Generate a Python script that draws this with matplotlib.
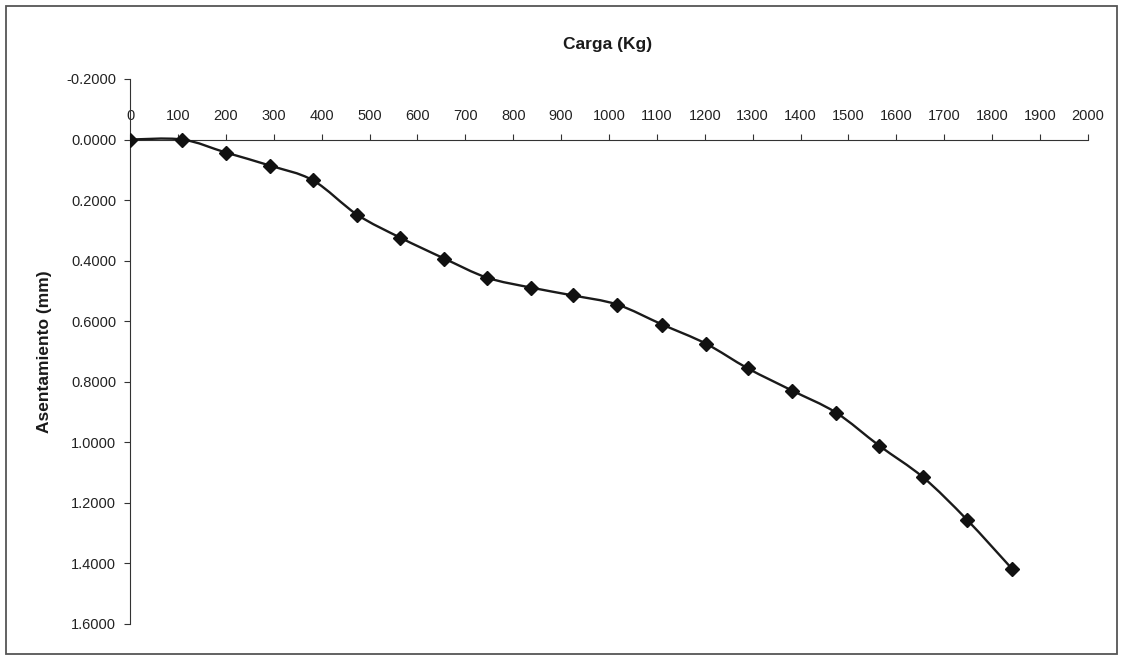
import numpy as np
import matplotlib
matplotlib.use("Agg")
import matplotlib.pyplot as plt
from matplotlib.path import Path
from matplotlib.patches import PathPatch, Rectangle

plt.rcParams['font.family'] = ['Liberation Sans', 'DejaVu Sans']

# ensayo de carga: carga aplicada vs asentamiento
carga = [0, 109, 200, 292, 382, 474, 564, 656, 745, 837, 925,
         1017, 1111, 1202, 1290, 1382, 1474, 1564, 1656, 1747, 1841]
asentamiento = [0.000, 0.000, 0.043, 0.086, 0.135, 0.248, 0.324, 0.393,
                0.456, 0.489, 0.515, 0.545, 0.611, 0.674, 0.756, 0.829,
                0.902, 1.011, 1.116, 1.255, 1.417]

x_ticks = list(range(0, 2001, 100))
y_ticks = [-0.2, 0.0, 0.2, 0.4, 0.6, 0.8, 1.0, 1.2, 1.4, 1.6]

fig = plt.figure(figsize=(11.23, 6.58), dpi=100)
ax = fig.add_axes([0.1158, 0.0517, 0.853, 0.8283])

# curva suavizada (bezier tipo excel) que pasa por los puntos
pts = np.column_stack([carga, asentamiento])
verts = [pts[0]]
codes = [Path.MOVETO]
n = len(pts)
for i in range(n - 1):
    p0 = pts[max(i - 1, 0)]
    p1 = pts[i]
    p2 = pts[i + 1]
    p3 = pts[min(i + 2, n - 1)]
    c1 = p1 + (p2 - p0) / 6.0
    c2 = p2 - (p3 - p1) / 6.0
    verts += [c1, c2, p2]
    codes += [Path.CURVE4] * 3
ax.add_patch(PathPatch(Path(verts, codes), facecolor='none',
                       edgecolor='#1a1a1a', lw=1.7, zorder=3))
ax.plot(carga, asentamiento, ls='none', marker='D', ms=7.5,
        mfc='#111111', mec='#111111', zorder=4)

ax.set_xlim(0, 2000)
ax.set_ylim(1.6, -0.2)

ax.spines['right'].set_visible(False)
ax.spines['bottom'].set_visible(False)
ax.spines['top'].set_position(('data', 0))
ax.spines['top'].set_color('#333333')
ax.spines['left'].set_color('#333333')
ax.xaxis.tick_top()
ax.set_xticks(x_ticks)
ax.set_xticklabels([str(v) for v in x_ticks])
ax.set_yticks(y_ticks)
ax.set_yticklabels(['%.4f' % v for v in y_ticks])
ax.tick_params(axis='x', direction='out', length=4, pad=8,
               labelsize=10.5, colors='#333333', labelcolor='#222222')
ax.tick_params(axis='y', direction='out', length=4, pad=6,
               labelsize=10.5, colors='#333333', labelcolor='#222222')

fig.text(0.541, 0.933, 'Carga (Kg)', ha='center', va='center',
         fontsize=12.5, fontweight='bold', color='#1a1a1a')
fig.text(0.040, 0.465, 'Asentamiento (mm)', ha='center', va='center',
         rotation=90, fontsize=12.5, fontweight='bold', color='#1a1a1a')

# marco exterior
fig.patches.append(Rectangle((0.005, 0.006), 0.990, 0.985,
                             transform=fig.transFigure, fill=False,
                             edgecolor='#555555', lw=1.3))

fig.savefig('out.png', dpi=100, facecolor='white')
